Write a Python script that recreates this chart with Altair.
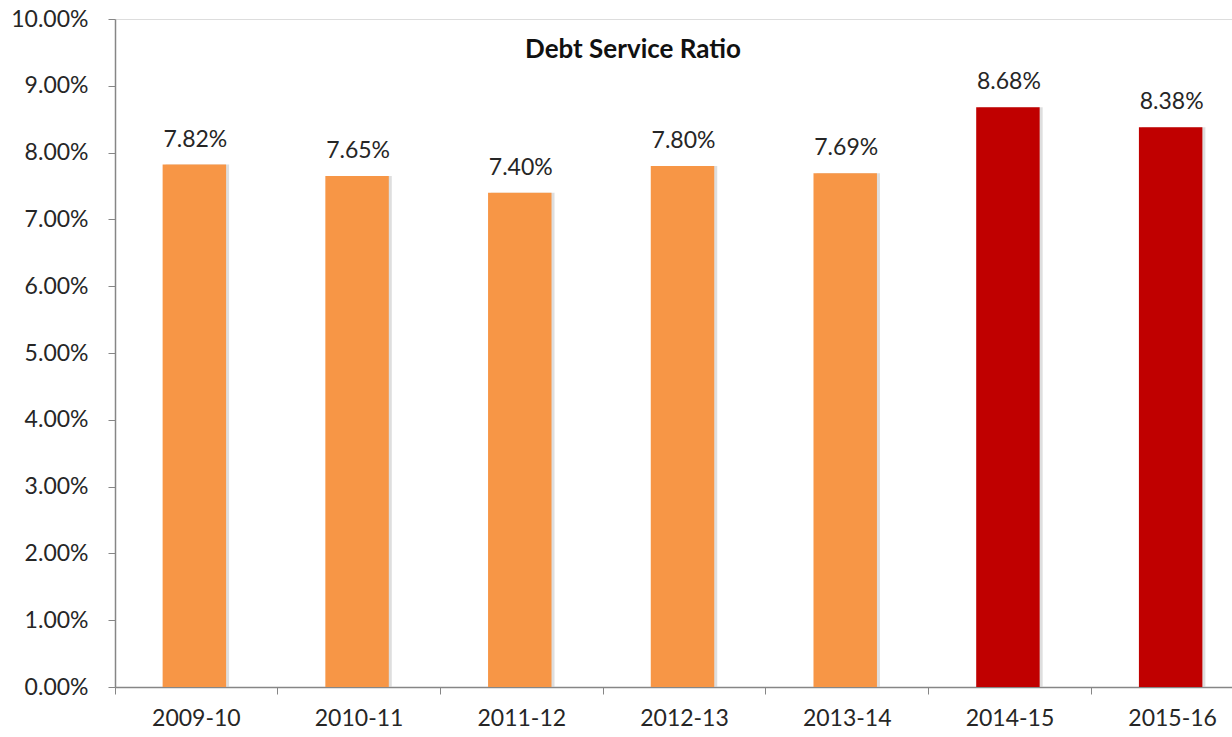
import altair as alt
import pandas as pd

years = ["2009-10", "2010-11", "2011-12", "2012-13", "2013-14", "2014-15", "2015-16"]
ratios_pct = [7.82, 7.65, 7.40, 7.80, 7.69, 8.68, 8.38]
bar_colors = ["#F79646"] * 5 + ["#C00000"] * 2
y_ticks = [i / 100 for i in range(0, 11)]
title_text = "Debt Service Ratio"

df = pd.DataFrame({
    "year": years,
    "ratio": [r / 100 for r in ratios_pct],
    "color": bar_colors,
})

FONT = "Lato"
W, H = 1117, 668
FULL_RANGE = 1139  # the last category runs past the right edge of the picture

x = alt.X(
    "year:N",
    sort=years,
    scale=alt.Scale(paddingInner=0, paddingOuter=0, range=[0, FULL_RANGE]),
    axis=alt.Axis(
        title=None,
        bandPosition=0,
        labelAngle=0,
        labelFont=FONT,
        labelFontSize=23,
        labelColor="#262626",
        labelPadding=13,
        tickSize=7,
        tickColor="#868686",
        domainColor="#868686",
        domainWidth=1.5,
        grid=False,
    ),
)
y = alt.Y(
    "ratio:Q",
    scale=alt.Scale(domain=[0, 0.10], nice=False),
    axis=alt.Axis(
        title=None,
        values=y_ticks,
        format=".2%",
        labelFont=FONT,
        labelFontSize=23,
        labelColor="#262626",
        labelPadding=20,
        tickSize=7,
        tickColor="#868686",
        domainColor="#868686",
        domainWidth=1.5,
        grid=False,
    ),
)

base = alt.Chart(df)

shadow = base.mark_bar(
    width=alt.RelativeBandSize(0.39), xOffset=1, color="#c8c8c8", opacity=0.6
).encode(x=x, y=y)

bars = base.mark_bar(width=alt.RelativeBandSize(0.39), xOffset=-2).encode(
    x=x, y=y, color=alt.Color("color:N", scale=None)
)

labels = base.mark_text(
    baseline="alphabetic", dy=-18, dx=-1, font=FONT, fontSize=23, color="#262626"
).encode(x=x, y=y, text=alt.Text("ratio:Q", format=".2%"))

title = alt.Chart(pd.DataFrame({"t": [title_text]})).mark_text(
    font=FONT, fontSize=26, fontWeight="bold", color="#111111", baseline="middle"
).encode(x=alt.value(518), y=alt.value(31), text="t:N")

chart = (
    alt.layer(shadow, bars, labels, title)
    .properties(
        width=W,
        height=H,
        autosize=alt.AutoSizeParams(type="none"),
        padding={"left": 115, "top": 19, "right": 0, "bottom": 50},
    )
    .configure_view(stroke=None)
    .configure(background="white")
)

chart.save("out.html", embed_options={"renderer": "svg", "actions": False})
